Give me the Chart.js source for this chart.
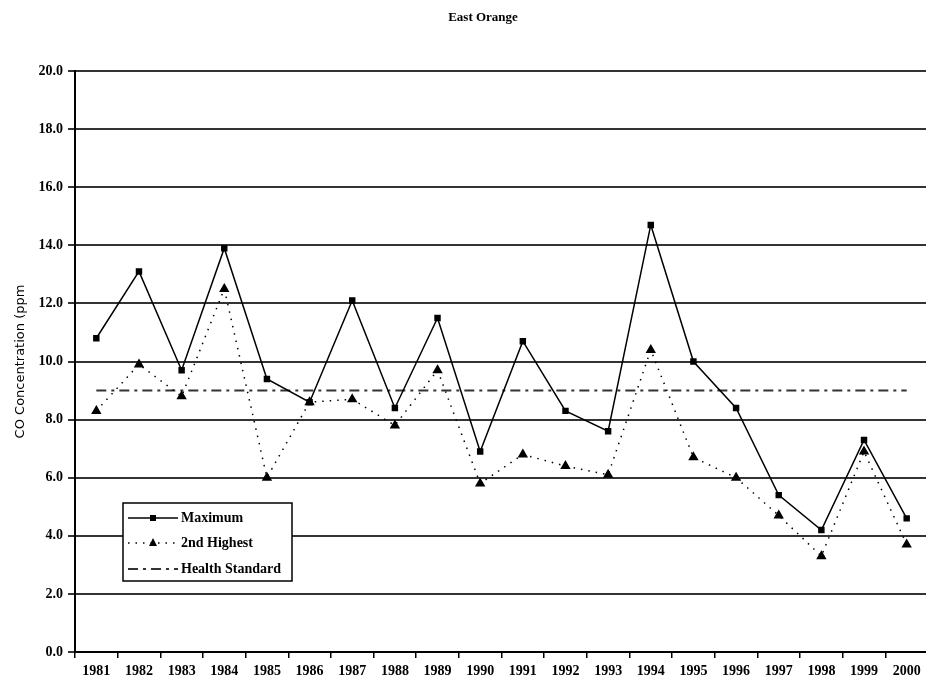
<!DOCTYPE html>
<html>
<head>
<meta charset="utf-8">
<script src="https://cdn.jsdelivr.net/npm/chart.js@4/dist/chart.umd.min.js"></script>
<style>
  html, body { margin: 0; padding: 0; background: #fff; overflow: hidden; }
  #wrap { width: 934px; height: 689px; }
</style>
</head>
<body>
<div id="wrap"><canvas id="coChart"></canvas></div>
<script>
// Years on the x axis
const years = ["1981", "1982", "1983", "1984", "1985", "1986", "1987", "1988", "1989", "1990",
               "1991", "1992", "1993", "1994", "1995", "1996", "1997", "1998", "1999", "2000"];

// Maximum 8-hour CO values (ppm)
const maximumValues = [10.8, 13.1, 9.7, 13.9, 9.4, 8.6, 12.1, 8.4, 11.5, 6.9,
                       10.7, 8.3, 7.6, 14.7, 10.0, 8.4, 5.4, 4.2, 7.3, 4.6];

// 2nd highest values (ppm)
const secondHighestValues = [8.3, 9.9, 8.8, 12.5, 6.0, 8.6, 8.7, 7.8, 9.7, 5.8,
                             6.8, 6.4, 6.1, 10.4, 6.7, 6.0, 4.7, 3.3, 6.9, 3.7];

// Health standard (ppm)
const healthStandard = years.map(() => 9.0);

const serif = "'Liberation Serif', 'Times New Roman', serif";

// Title, sitting a bit left of the page centre as in the original
const titleText = {
    id: 'titleText',
    afterDraw(chart) {
        const ctx = chart.ctx;
        ctx.save();
        ctx.fillStyle = '#000';
        ctx.font = 'bold 13px ' + serif;
        ctx.textAlign = 'center';
        ctx.textBaseline = 'middle';
        ctx.fillText('East Orange', 483, 18);
        ctx.restore();
    }
};

// Legend drawn as a box inside the plot, like the original
const boxLegend = {
    id: 'boxLegend',
    afterDraw(chart) {
        const ctx = chart.ctx;
        const x = 123, y = 503, w = 169, h = 78;
        ctx.save();
        ctx.fillStyle = '#fff';
        ctx.fillRect(x, y, w, h);
        ctx.strokeStyle = '#000';
        ctx.lineWidth = 1.5;
        ctx.strokeRect(x, y, w, h);
        const rows = [518, 543, 569];
        chart.data.datasets.forEach((ds, i) => {
            const ry = rows[i];
            ctx.strokeStyle = ds.borderColor;
            ctx.lineWidth = ds.borderWidth;
            ctx.setLineDash(ds.borderDash || []);
            ctx.beginPath();
            ctx.moveTo(x + 5, ry);
            ctx.lineTo(x + 55, ry);
            ctx.stroke();
            ctx.setLineDash([]);
            ctx.fillStyle = '#000';
            if (ds.pointStyle === 'rect') {
                ctx.fillRect(x + 27, ry - 3, 6, 6);
            } else if (ds.pointStyle === 'triangle') {
                ctx.beginPath();
                ctx.moveTo(x + 30, ry - 5);
                ctx.lineTo(x + 34, ry + 3);
                ctx.lineTo(x + 26, ry + 3);
                ctx.closePath();
                ctx.fill();
            }
            ctx.font = 'bold 14px ' + serif;
            ctx.textBaseline = 'middle';
            ctx.fillText(ds.label, x + 58, ry);
        });
        ctx.restore();
    }
};

const ctx = document.getElementById('coChart').getContext('2d');
new Chart(ctx, {
    type: 'line',
    data: {
        labels: years,
        datasets: [{
            label: 'Maximum',
            data: maximumValues,
            borderColor: '#000',
            backgroundColor: '#000',
            borderWidth: 1.5,
            pointStyle: 'rect',
            pointRadius: 3.5,
            tension: 0
        }, {
            label: '2nd Highest',
            data: secondHighestValues,
            borderColor: '#000',
            backgroundColor: '#000',
            borderWidth: 1.5,
            borderDash: [1.5, 6],
            pointStyle: 'triangle',
            pointRadius: 4.5,
            tension: 0
        }, {
            label: 'Health Standard',
            data: healthStandard,
            borderColor: '#333',
            backgroundColor: '#333',
            borderWidth: 2,
            borderDash: [10, 5, 3, 5],
            pointRadius: 0,
            tension: 0
        }]
    },
    options: {
        responsive: true,
        maintainAspectRatio: false,
        animation: false,
        layout: { padding: { top: 71, right: 0, left: 13, bottom: 0 } },
        plugins: {
            legend: { display: false },
            tooltip: { enabled: false },
            title: { display: false }
        },
        scales: {
            x: {
                offset: true,
                afterFit: (scale) => { scale.height = 37; },
                grid: {
                    display: true,
                    offset: true,
                    drawOnChartArea: false,
                    drawTicks: true,
                    tickLength: 6,
                    color: '#000',
                    lineWidth: 1.5
                },
                border: { display: true, color: '#000', width: 2 },
                ticks: {
                    color: '#000',
                    maxRotation: 0,
                    autoSkip: false,
                    padding: 5,
                    font: { family: serif, size: 14, weight: 'bold' }
                }
            },
            y: {
                min: 0,
                max: 20,
                afterFit: (scale) => { scale.width = 62; },
                grid: {
                    color: '#333',
                    lineWidth: 2,
                    drawTicks: true,
                    tickLength: 7
                },
                border: { display: true, color: '#000', width: 2 },
                ticks: {
                    stepSize: 2,
                    color: '#000',
                    padding: 5,
                    callback: (v) => v.toFixed(1),
                    font: { family: serif, size: 14, weight: 'bold' }
                },
                title: {
                    display: true,
                    text: 'CO Concentration (ppm',
                    color: '#000',
                    padding: { top: 0, bottom: 0 },
                    font: { family: "'DejaVu Sans', sans-serif", size: 13 }
                }
            }
        }
    },
    plugins: [boxLegend, titleText]
});
</script>
</body>
</html>
